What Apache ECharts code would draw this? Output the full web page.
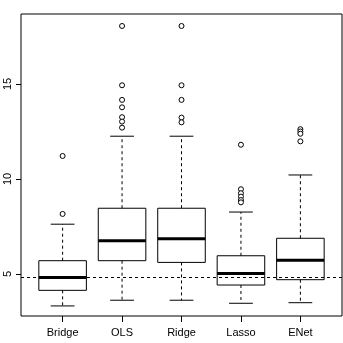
<!DOCTYPE html>
<html>
<head>
<meta charset="utf-8">
<script src="https://cdn.jsdelivr.net/npm/echarts@6/dist/echarts.min.js"></script>
<style>
  html, body { margin: 0; padding: 0; background: #fff; }
  #chart { width: 343px; height: 343px; }
</style>
</head>
<body>
<div id="chart"></div>
<script>
// box statistics
const categories = ['Bridge', 'OLS', 'Ridge', 'Lasso', 'ENet'];
const lowerWhisker = [3.32, 3.62, 3.62, 3.46, 3.49];
const q1 = [4.14, 5.70, 5.61, 4.42, 4.70];
const medians = [4.81, 6.75, 6.86, 5.03, 5.72];
const q3 = [5.70, 8.46, 8.46, 5.96, 6.88];
const upperWhisker = [7.62, 12.25, 12.25, 8.26, 10.21];
const outliers = [
    [8.16, 11.21],
    [18.05, 14.93, 14.16, 13.77, 13.25, 13.02, 12.70],
    [18.05, 14.93, 14.16, 13.23, 12.98],
    [11.80, 9.46, 9.25, 9.07, 8.89, 8.77],
    [12.62, 12.50, 12.38, 11.98]
];
const refLine = 4.81;
const yTicks = [5, 10, 15];
const xTicks = [1, 2, 3, 4, 5];

let boxData = categories.map(function (c, i) {
    return [i + 1, lowerWhisker[i], q1[i], medians[i], q3[i], upperWhisker[i]];
});
let outlierData = [];
outliers.forEach(function (list, i) {
    list.forEach(function (v) { outlierData.push([i + 1, v]); });
});

function renderBox(params, api) {
    let x = api.value(0);
    let cx = api.coord([x, 0])[0];
    let bw = api.size([0.8, 0])[0];
    let cw = api.size([0.4, 0])[0];
    let y = function (v) { return api.coord([x, v])[1]; };
    let lo = y(api.value(1)), b1 = y(api.value(2)), md = y(api.value(3)),
        b3 = y(api.value(4)), hi = y(api.value(5));
    let thin = { stroke: '#000', lineWidth: 1, fill: null };
    let dashed = { stroke: '#000', lineWidth: 1, lineDash: [3, 3], fill: null };
    return {
        type: 'group',
        children: [
            { type: 'line', shape: { x1: cx, y1: b3, x2: cx, y2: hi }, style: dashed },
            { type: 'line', shape: { x1: cx, y1: b1, x2: cx, y2: lo }, style: dashed },
            { type: 'line', shape: { x1: cx - cw / 2, y1: hi, x2: cx + cw / 2, y2: hi }, style: thin },
            { type: 'line', shape: { x1: cx - cw / 2, y1: lo, x2: cx + cw / 2, y2: lo }, style: thin },
            { type: 'rect', shape: { x: cx - bw / 2, y: b3, width: bw, height: b1 - b3 },
              style: { stroke: '#000', lineWidth: 1, fill: 'none' } },
            { type: 'line', shape: { x1: cx - bw / 2, y1: md, x2: cx + bw / 2, y2: md },
              style: { stroke: '#000', lineWidth: 3 } }
        ]
    };
}

let myChart = echarts.init(document.getElementById('chart'));
var option = {
    animation: false,
    textStyle: { fontFamily: 'Liberation Sans, Arial, sans-serif' },
    grid: {
        left: 21, right: 1, top: 14, bottom: 27,
        show: true, borderColor: '#000', borderWidth: 1
    },
    xAxis: {
        type: 'value',
        min: 0.3,
        max: 5.7,
        splitLine: { show: false },
        axisLine: { show: false },
        axisTick: { customValues: xTicks, length: 6, lineStyle: { color: '#000' } },
        axisLabel: {
            customValues: xTicks,
            formatter: function (v) { return categories[v - 1]; },
            color: '#000', fontSize: 11, margin: 11
        }
    },
    yAxis: {
        type: 'value',
        min: 2.79,
        max: 18.68,
        splitLine: { show: false },
        axisLine: { show: false },
        axisTick: { customValues: yTicks, length: 5, lineStyle: { color: '#000' } },
        axisLabel: {
            customValues: yTicks,
            rotate: 90,
            color: '#000', fontSize: 11, margin: 8
        }
    },
    series: [
        {
            type: 'custom',
            renderItem: renderBox,
            data: boxData,
            encode: { x: 0, y: [1, 2, 3, 4, 5] },
            silent: true
        },
        {
            type: 'scatter',
            data: outlierData,
            symbol: 'circle',
            symbolSize: 5,
            itemStyle: { color: '#fff', borderColor: '#000', borderWidth: 1, opacity: 1 },
            z: 5,
            silent: true,
            markLine: {
                silent: true,
                symbol: 'none',
                label: { show: false },
                lineStyle: { color: '#000', width: 1, type: [3, 3] },
                data: [{ yAxis: refLine }]
            }
        }
    ]
};
myChart.setOption(option);
</script>
</body>
</html>
